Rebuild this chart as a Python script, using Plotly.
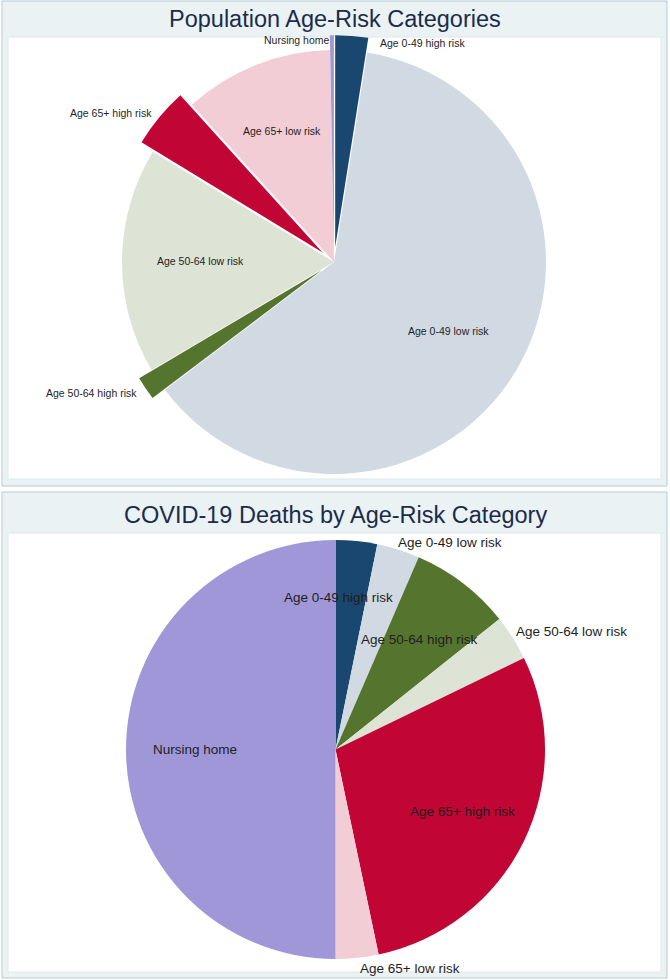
import math
import plotly.graph_objects as go

# ---------------- data ----------------
categories = ["Age 0-49 high risk", "Age 0-49 low risk", "Age 50-64 high risk",
              "Age 50-64 low risk", "Age 65+ high risk", "Age 65+ low risk", "Nursing home"]
population_share = [2.5, 62.2, 1.8, 17.2, 4.6, 11.4, 0.3]
deaths_share = [3.2, 3.3, 7.8, 3.5, 28.9, 3.3, 50.0]
titles = ["Population Age-Risk Categories", "COVID-19 Deaths by Age-Risk Category"]

# ---------------- style ----------------
colors = ["#1a476f", "#d1dae3", "#55752f", "#dde3d5", "#c10534", "#f2cdd5", "#9f97d8"]
pop_pull = [0.07, 0, 0.07, 0, 0.07, 0, 0.07]
W, H = 670, 980
FONT = "Liberation Sans, Arial, sans-serif"

# pie geometry in pixels: (cx, cy, r, maxpull)
pies = [
    dict(values=population_share, pull=pop_pull, cx=334, cy=262, r=212, mp=0.07, fs=10.5,
         labels=[(1.054, 6.9, "left"), (0.63, 0, "center"), (1.11, 0, "right"),
                 (0.632, 0, "center"), (1.10, 0, "right"), (0.665, 0, "center"),
                 (1.047, 0, "right")]),
    dict(values=deaths_share, pull=[0] * 7, cx=335.5, cy=749.5, r=209.5, mp=0.0, fs=13.5,
         labels=[(0.728, -4.5, "center"), (1.03, -1.2, "left"), (0.66, 0, "center"),
                 (1.024, -1.3, "left"), (0.673, 0, "center"), (1.05, 0, "left"),
                 (0.67, 0, "center")]),
]
panels = [
    dict(outer=(2, 1, 667, 486), inner=(8, 37, 661, 479), title_y=19),
    dict(outer=(2, 492, 667, 978), inner=(8, 533, 661, 972), title_y=515),
]

px = lambda x: x / W
py = lambda y: 1 - y / H

fig = go.Figure()
shapes, annotations = [], []

for pan, title in zip(panels, titles):
    x0, y0, x1, y1 = pan["outer"]
    shapes.append(dict(type="rect", xref="paper", yref="paper", layer="below",
                       x0=px(x0), x1=px(x1), y0=py(y1), y1=py(y0),
                       fillcolor="#eaf2f3", line=dict(color="#b7c9d3", width=1)))
    x0, y0, x1, y1 = pan["inner"]
    shapes.append(dict(type="rect", xref="paper", yref="paper", layer="below",
                       x0=px(x0), x1=px(x1), y0=py(y1), y1=py(y0),
                       fillcolor="white", line=dict(color="#dfe8ec", width=1)))
    annotations.append(dict(text=title, x=0.5, y=py(pan["title_y"]), xref="paper", yref="paper",
                            showarrow=False, xanchor="center", yanchor="middle",
                            font=dict(family=FONT, size=23.5, color="#1c2b4b")))

for p in pies:
    half = p["r"] * (1 + p["mp"])
    fig.add_trace(go.Pie(
        labels=categories, values=p["values"], pull=p["pull"], sort=False,
        direction="clockwise", rotation=0, textinfo="none", hoverinfo="label+percent",
        marker=dict(colors=colors, line=dict(width=0)), showlegend=False,
        domain=dict(x=[px(p["cx"] - half), px(p["cx"] + half)],
                    y=[py(p["cy"] + half), py(p["cy"] - half)]),
    ))
    total = sum(p["values"])
    cum = 0.0
    for name, v, (rho, dth, anchor) in zip(categories, p["values"], p["labels"]):
        mid = (cum + v / 2) / total * 360.0
        cum += v
        a = math.radians(mid + dth)
        lx = p["cx"] + rho * p["r"] * math.sin(a)
        ly = p["cy"] - rho * p["r"] * math.cos(a)
        annotations.append(dict(text=name, x=px(lx), y=py(ly), xref="paper", yref="paper",
                                showarrow=False, xanchor=anchor, yanchor="middle",
                                font=dict(family=FONT, size=p["fs"], color="#1e1e1e")))

fig.update_layout(width=W, height=H, margin=dict(l=0, r=0, t=0, b=0),
                  paper_bgcolor="white", plot_bgcolor="white",
                  shapes=shapes, annotations=annotations)

fig.write_html("out.html", config={"displayModeBar": False},
               post_script="document.body.style.margin='0';document.body.style.overflow='hidden';")
